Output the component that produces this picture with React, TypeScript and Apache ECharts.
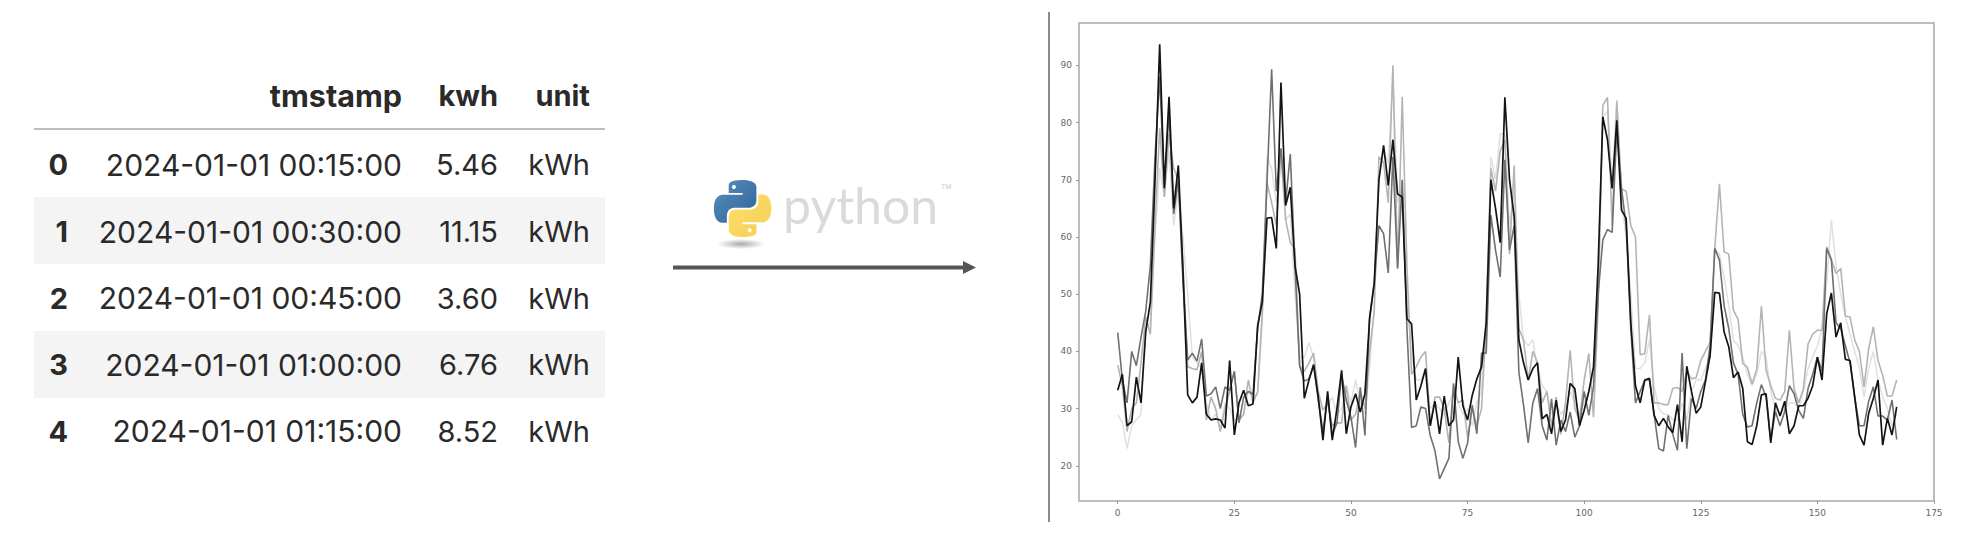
import React, { useEffect, useRef } from "react";
import * as echarts from "echarts";

const tableHeaders = ["tmstamp", "kwh", "unit"];
const rowIndex = ["0", "1", "2", "3", "4"];
const tmstamps = ["2024-01-01 00:15:00", "2024-01-01 00:30:00", "2024-01-01 00:45:00", "2024-01-01 01:00:00", "2024-01-01 01:15:00"];
const kwhValues = ["5.46", "11.15", "3.60", "6.76", "8.52"];
const unitValues = ["kWh", "kWh", "kWh", "kWh", "kWh"];

const xTicks = [0, 25, 50, 75, 100, 125, 150, 175];
const yTicks = [20, 30, 40, 50, 60, 70, 80, 90];

const seriesBlack = [
  33.2,36,27,27.7,35.5,31,43.4,48.6,70,93.7,68.5,84.5,65,72.5,54,32.4,31,32,38,29,28,28.2,28,26.6,
  38.4,25.4,31,33.2,30.5,30.8,44.5,48.6,63.3,63.4,58,87,65.5,68.7,55,50,31.8,35,37.7,32,24.5,33,24.5,30,
  36.7,25.6,30.3,32.6,29.4,32.6,45.7,52,70,76,69,77,67.5,67,45.7,44.8,31.5,34,37,27,31.3,25.6,32.2,27,
  28,39,30.5,28,32.3,35.2,37.3,45,70,65,59,84.4,70,63.5,42,38,35,37,38,28.2,29,25.6,31.5,26,
  28,34.4,33.5,27,29.7,33,37.3,55,81,77,68.5,80.4,64.7,63.3,45,34,31,35,35.3,28.8,27,28.3,26.8,25.8,
  30.7,24.2,37.4,33,29.2,30.3,34.7,39.3,50.3,50.2,43.4,40.8,35.4,36.4,33.5,24.2,23.7,27,32.4,32.6,24,31,28.7,31.3,
  25.6,27,30.5,30.5,31.8,34,39,35,46.6,50.2,42.5,45,38.6,38.4,32,25.4,23.6,29.2,31.8,35,23.6,28.3,25.4,30.3,
];
const seriesDark = [
  43.3,35,31,40,37.5,42.5,47,55,74,88,69,82,64,70,52,38.5,39.7,38.3,42.2,32.2,32.6,33.8,30,33.8,
  33.2,36.5,27.5,32,33,32.5,44,50,69.5,89.3,68,75.5,66,74.5,55,37.5,34.8,35.2,37.5,31.5,26,32,25.5,27.5,
  36,31.5,28.5,23.2,33.7,25.3,46,52,62,60.6,53.7,74,54.5,70,44,26.7,27,30.3,30,25.3,22.7,17.7,19.5,21.3,
  34.4,24.2,21.3,24,30.6,25.6,39.7,39.7,63.8,57.7,53,73.5,57.7,62,36.4,30.6,24,31,33.5,27,24.5,31.7,23.6,28,
  26,29.4,25,27,33,28.8,33.8,50,59.5,61.3,60.8,79,68.5,62,44,31,33,35,35,29,23,22.6,28.8,25.5,
  22.7,39.7,23,31.8,30,33,35,41,58,56,48,44,38,36,29,26.8,27,31,34.2,32,24.5,29.5,27,29.5,
  34,32.6,29.7,28.3,33.5,36,39,36.5,58,56,45,44,41,38,32,27,27,31.3,33.8,28.7,28.7,28,31.5,24.6,
];
const seriesMid = [
  37.6,34,26,30,31,38,46,43,62,79,67,78,72,70,55,37.3,37,36.8,40,28,32,30,26,30,
  33,36.5,28,29,35,31,33,47,69.5,66,62,75,63,59,58,37.5,36.5,38,39.7,33,29.7,31,27,27.5,
  27.5,34,28,29,33,30,40,47,74,73,66,90,54.5,84.5,55,36,37.3,39,40,27,32,32,30,24,
  34,31,31.5,25,30,27,30,45,72,68,75,77,57,72.5,44,42,35,40,38,31,33,27,32,25.5,
  31,40.2,30,28,35,39.6,28.5,48,83,84.4,62,83.7,68.4,68,62,60,39.4,39.6,46.4,31,31,30.7,30.7,33.5,
  33.7,33,36.5,35.2,35.4,38.4,40,41.6,58,69.3,57.4,57,47.2,45.6,37.9,37.2,34.3,36.9,47.9,36.7,34,31.8,31.5,33,
  43.7,33.5,31,33.5,41.3,43,43.7,43.7,58.3,56,53.6,54.5,46.2,46,42,40,33.8,40.5,44.3,38.4,35.8,32.2,32.2,35,
];
const seriesLight = [
  29,27.5,23,27,28,29,44,45,60,72,67,75,62,68,60,50,39,38,37,31,28,29,26.5,31,
  30,28,28,29,33,32,32.5,45,74,72,66,74,63,64,50,39,39,41.5,39,31,30,30.5,32,29,
  30,34,31,35,31,29,37,48,70,75,73,88,66,70,50,39,35,35,37,30,31,30,29,31,
  33,31,29,30,27,31,33,47,74,70,78,78,62,68,50,42,41,42,37,34,33,29,31,29,
  30,33,31,29,31,33,36,50,81,82,70,84,66,60,50,37,37,38,42,34,30,29,29,28,
  28,31,28,33,35,35,37,39,58,57,53,48,42,41,39,36,34,36,40,39,33,30,29,30,
  31,31,30,33,37,39,41,44,52,63,55,50,46,43,40,37,32,37,40,35,32,30,27,29,
];

const blueSnake = "M14.25.18l.9.2.73.26.59.3.45.32.34.34.25.34.16.33.1.3.04.26.02.2-.01.13V8.5l-.05.63-.13.55-.21.46-.26.38-.3.31-.33.25-.35.19-.35.14-.33.1-.3.07-.26.04-.21.02H8.77l-.69.05-.59.14-.5.22-.41.27-.33.32-.27.35-.2.36-.15.37-.1.35-.07.32-.04.27-.02.21v3.06H3.17l-.21-.03-.28-.07-.32-.12-.35-.18-.36-.26-.36-.36-.35-.46-.32-.59-.28-.73-.21-.88-.14-1.05-.05-1.23.06-1.22.16-1.04.24-.87.32-.71.36-.57.4-.44.42-.33.42-.24.4-.16.36-.1.32-.05.24-.01h.16l.06.01h8.16v-.83H6.18l-.01-2.75-.02-.37.05-.34.11-.31.17-.28.25-.26.31-.23.38-.2.44-.18.51-.15.58-.12.64-.1.71-.06.77-.04.84-.02 1.27.05z";
const yellowSnake = "M21.04 6.11l.28.06.32.12.35.18.36.27.36.35.35.47.32.59.28.73.21.88.14 1.04.05 1.23-.06 1.23-.16 1.04-.24.86-.32.71-.36.57-.4.45-.42.33-.42.24-.4.16-.36.09-.32.05-.24.02-.16-.01h-8.22v.82h5.84l.01 2.76.02.36-.05.34-.11.31-.17.29-.25.25-.31.24-.38.2-.44.17-.51.15-.58.13-.64.09-.71.07-.77.04-.84.01-1.27-.04-1.07-.14-.9-.2-.73-.25-.59-.3-.45-.33-.34-.34-.25-.34-.16-.33-.1-.3-.04-.25-.02-.2.01-.13v-5.34l.05-.64.13-.54.21-.46.26-.38.3-.32.33-.24.35-.2.35-.14.33-.1.3-.06.26-.04.21-.02.13-.01h5.84l.69-.05.59-.14.5-.21.41-.28.33-.32.27-.35.2-.36.15-.36.1-.35.07-.32.04-.28.02-.21V6.07h2.09l.14.01z";

echarts.graphic.registerShape("pyBlue", echarts.graphic.extendPath(blueSnake as any, {}) as any);
echarts.graphic.registerShape("pyYellow", echarts.graphic.extendPath(yellowSnake as any, {}) as any);

const TABLE_FONT = "Inter, Roboto, sans-serif";
const TEXT_COLOR = "#2a2a2a";

function cell(text: string, right: number, cy: number, bold = false, size = 29) {
  return {
    type: "text",
    x: right,
    y: cy,
    style: {
      text,
      align: "right",
      verticalAlign: "middle",
      fontFamily: TABLE_FONT,
      fontSize: size,
      fontWeight: bold ? 700 : 400,
      fill: TEXT_COLOR,
    },
  };
}

function tableElements() {
  const out: any[] = [];
  const rowY = [164.5, 231.5, 298, 364.5, 431];
  out.push({ type: "rect", shape: { x: 34, y: 197, width: 571, height: 67 }, style: { fill: "#f4f4f4" } });
  out.push({ type: "rect", shape: { x: 34, y: 331, width: 571, height: 67 }, style: { fill: "#f4f4f4" } });
  out.push({ type: "line", shape: { x1: 34, y1: 129, x2: 605, y2: 129 }, style: { stroke: "#bdbdbd", lineWidth: 2 } });
  const rights = [402, 498, 590];
  tableHeaders.forEach((h, i) => out.push(cell(h, rights[i], 95.5, true, i === 0 ? 30.5 : 29)));
  rowIndex.forEach((r, i) => {
    out.push(cell(r, 68, rowY[i], true));
    out.push(cell(tmstamps[i], rights[0], rowY[i], false, 30));
    out.push(cell(kwhValues[i], rights[1], rowY[i]));
    out.push(cell(unitValues[i], rights[2], rowY[i]));
  });
  return out;
}

function logoElements() {
  const ox = 714, oy = 180, s = 2.38;
  const eye = (cx: number, cy: number) => ({
    type: "circle",
    shape: { cx: ox + cx * s, cy: oy + cy * s, r: 0.85 * s },
    style: { fill: "#ffffff" },
  });
  return [
    {
      type: "ellipse",
      shape: { cx: 741, cy: 244, rx: 24, ry: 5 },
      style: {
        fill: new echarts.graphic.RadialGradient(0.5, 0.5, 0.5, [
          { offset: 0, color: "#a8a8a8" },
          { offset: 1, color: "#ffffff" },
        ]),
      },
    },
    {
      type: "pyBlue",
      x: ox,
      y: oy,
      scaleX: s,
      scaleY: s,
      style: {
        fill: new echarts.graphic.LinearGradient(0, 0, 1, 1, [
          { offset: 0, color: "#5a8fc0" },
          { offset: 1, color: "#2f6295" },
        ]),
      },
    },
    {
      type: "pyYellow",
      x: ox,
      y: oy,
      scaleX: s,
      scaleY: s,
      style: {
        fill: new echarts.graphic.LinearGradient(0, 0, 1, 1, [
          { offset: 0, color: "#ffdf6a" },
          { offset: 1, color: "#f3cf55" },
        ]),
      },
    },
    eye(8.37, 2.9),
    eye(15.0, 21.15),
    {
      type: "text",
      x: 783,
      y: 205,
      style: {
        text: "python",
        align: "left",
        verticalAlign: "middle",
        fontFamily: "Lato, sans-serif",
        fontSize: 50,
        fontWeight: 400,
        fill: "#dadada",
      },
    },
    {
      type: "text",
      x: 941,
      y: 187,
      style: { text: "TM", align: "left", verticalAlign: "middle", fontFamily: "Roboto, sans-serif", fontSize: 7, fill: "#cfcfcf" },
    },
  ];
}

function arrowElements() {
  return [
    { type: "line", shape: { x1: 673, y1: 267.5, x2: 965, y2: 267.5 }, style: { stroke: "#555555", lineWidth: 4 } },
    { type: "polygon", shape: { points: [[963, 261], [976, 267.5], [963, 274]] }, style: { fill: "#555555" } },
  ];
}

const indexed = (values: number[]) => values.map((v, i) => [i, v]);

export default function App() {
  const ref = useRef<HTMLDivElement>(null);
  useEffect(() => {
    document.body.style.margin = "0";
    const chart = echarts.init(ref.current!, undefined, { renderer: "svg" });
    const line = (name: string, data: number[], color: string, width: number) => ({
      name,
      type: "line",
      data: indexed(data),
      showSymbol: false,
      symbol: "none",
      lineStyle: { color, width },
      itemStyle: { color },
      z: 2,
    });
    chart.setOption({
      animation: false,
      backgroundColor: "#ffffff",
      grid: {
        show: true,
        left: 1079,
        top: 23,
        right: 36,
        bottom: 51,
        borderColor: "#a8a8a8",
        borderWidth: 1.5,
        backgroundColor: "#ffffff",
      },
      xAxis: {
        type: "value",
        min: -8.3,
        max: 175,
        splitLine: { show: false },
        axisLine: { show: false, onZero: false },
        axisTick: { show: true, length: 3, customValues: xTicks, lineStyle: { color: "#999999" } },
        axisLabel: { show: true, customValues: xTicks, color: "#666666", fontSize: 9, fontFamily: "DejaVu Sans", margin: 7 },
      },
      yAxis: {
        type: "value",
        min: 13.85,
        max: 97.4,
        splitLine: { show: false },
        axisLine: { show: false, onZero: false },
        axisTick: { show: true, length: 3, customValues: yTicks, lineStyle: { color: "#999999" } },
        axisLabel: { show: true, customValues: yTicks, color: "#666666", fontSize: 9, fontFamily: "DejaVu Sans", margin: 7 },
      },
      series: [
        line("light", seriesLight, "#e0e0e0", 1.5),
        line("mid", seriesMid, "#b4b4b4", 1.6),
        line("dark", seriesDark, "#707070", 1.6),
        line("black", seriesBlack, "#141414", 1.7),
      ],
      graphic: [
        ...tableElements(),
        ...logoElements(),
        ...arrowElements(),
        { type: "line", shape: { x1: 1049, y1: 12, x2: 1049, y2: 522 }, style: { stroke: "#8c8c8c", lineWidth: 2 } },
      ],
    });
    return () => chart.dispose();
  }, []);
  return <div ref={ref} style={{ position: "fixed", left: 0, top: 0, width: 1970, height: 552 }} />;
}
